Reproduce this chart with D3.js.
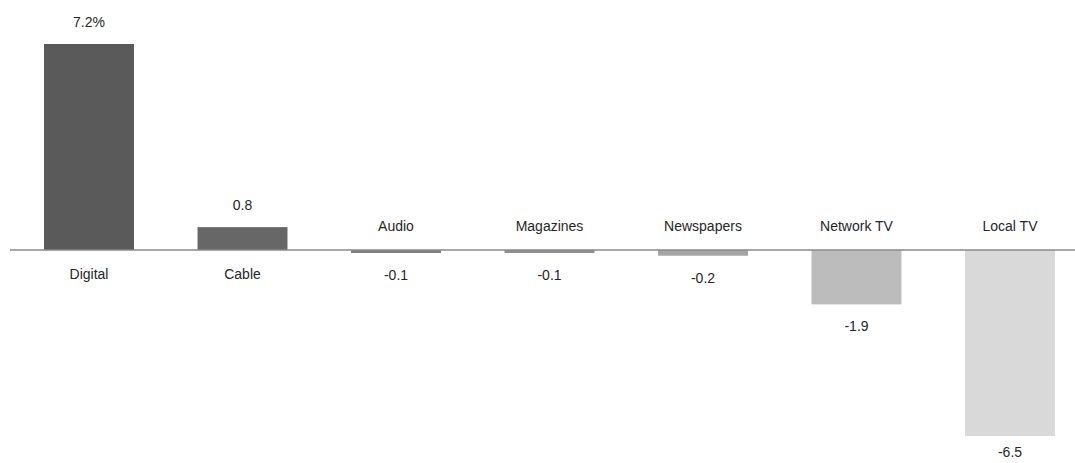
<!DOCTYPE html>
<html><head><meta charset="utf-8">
<script src="https://cdn.jsdelivr.net/npm/d3@7/dist/d3.min.js"></script>
<style>body{margin:0;background:#fff;} text{font-family:"Liberation Sans",Arial,sans-serif;font-size:14px;fill:#262626;}</style>
</head><body>
<svg id="c" width="1075" height="463"></svg>
<script>
const categories = ["Digital","Cable","Audio","Magazines","Newspapers","Network TV","Local TV"];
const values = [7.2, 0.8, -0.1, -0.1, -0.2, -1.9, -6.5];
const valueLabels = ["7.2%","0.8","-0.1","-0.1","-0.2","-1.9","-6.5"];
const colors = ["#5a5a5a","#676767","#7f7f7f","#8f8f8f","#a5a5a5","#bcbcbc","#d9d9d9"];

const svg = d3.select("#c");
const x = d3.scaleBand().domain(categories).range([12.25, 1086.75]).paddingInner(0.414).paddingOuter(0.207);
const y = d3.scaleLinear().domain([-6.5, 7.2]).range([436, 44]);
const y0 = y(0);

svg.selectAll("rect.bar").data(values).join("rect")
  .attr("class","bar")
  .attr("x",(d,i)=>x(categories[i]))
  .attr("width",x.bandwidth())
  .attr("y",d=>d>=0?y(d):y0)
  .attr("height",d=>Math.max(Math.abs(y(d)-y0),3))
  .attr("fill",(d,i)=>colors[i]);

svg.append("line").attr("x1",10).attr("x2",1075).attr("y1",y0).attr("y2",y0)
  .attr("stroke","#8a8a8a").attr("stroke-width",1.5);

svg.selectAll("text.cat").data(values).join("text")
  .attr("class","cat")
  .attr("x",(d,i)=>x(categories[i])+x.bandwidth()/2)
  .attr("y",d=>d>=0?y0+24:y0-24)
  .attr("text-anchor","middle").attr("dominant-baseline","central")
  .text((d,i)=>categories[i]);

svg.selectAll("text.val").data(values).join("text")
  .attr("class","val")
  .attr("x",(d,i)=>x(categories[i])+x.bandwidth()/2)
  .attr("y",d=>{
    const end = d>=0?y(d):Math.max(y(d), y0+3);
    const pos = d>=0? end-22 : end+22;
    return Math.min(pos, 452);
  })
  .attr("text-anchor","middle").attr("dominant-baseline","central")
  .text((d,i)=>valueLabels[i]);
</script>
</body></html>
